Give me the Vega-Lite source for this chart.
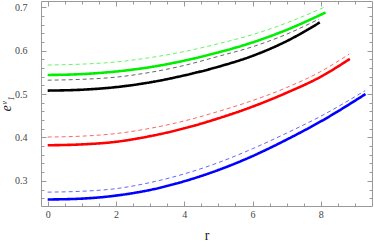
{
  "$schema": "https://vega.github.io/schema/vega-lite/v6.json",
  "width": 331,
  "height": 205,
  "autosize": {"type": "none"},
  "padding": {"left": 41, "top": 1, "right": 2, "bottom": 40},
  "background": "white",
  "view": {"stroke": null},
  "config": {
    "axis": {
      "labelFont": "Liberation Serif",
      "labelFontSize": 10,
      "labelColor": "#444",
      "titleFont": "Liberation Serif",
      "titleColor": "#222",
      "titleFontWeight": "normal",
      "domainColor": "#999",
      "tickColor": "#999",
      "grid": false
    }
  },
  "data": {
    "values": [
      {"r": 0, "v": 0.544, "model": "g", "kind": "solid", "curve": "g-s"},
      {"r": 1, "v": 0.546, "model": "g", "kind": "solid", "curve": "g-s"},
      {"r": 2, "v": 0.552, "model": "g", "kind": "solid", "curve": "g-s"},
      {"r": 3, "v": 0.562, "model": "g", "kind": "solid", "curve": "g-s"},
      {"r": 4, "v": 0.577, "model": "g", "kind": "solid", "curve": "g-s"},
      {"r": 5, "v": 0.596, "model": "g", "kind": "solid", "curve": "g-s"},
      {"r": 6, "v": 0.619, "model": "g", "kind": "solid", "curve": "g-s"},
      {"r": 7, "v": 0.648, "model": "g", "kind": "solid", "curve": "g-s"},
      {"r": 8.14, "v": 0.688, "model": "g", "kind": "solid", "curve": "g-s"},

      {"r": 0, "v": 0.567, "model": "g", "kind": "dashed", "curve": "g-d"},
      {"r": 1, "v": 0.569, "model": "g", "kind": "dashed", "curve": "g-d"},
      {"r": 2, "v": 0.574, "model": "g", "kind": "dashed", "curve": "g-d"},
      {"r": 3, "v": 0.584, "model": "g", "kind": "dashed", "curve": "g-d"},
      {"r": 4, "v": 0.598, "model": "g", "kind": "dashed", "curve": "g-d"},
      {"r": 5, "v": 0.616, "model": "g", "kind": "dashed", "curve": "g-d"},
      {"r": 6, "v": 0.637, "model": "g", "kind": "dashed", "curve": "g-d"},
      {"r": 7, "v": 0.664, "model": "g", "kind": "dashed", "curve": "g-d"},
      {"r": 8.1, "v": 0.700, "model": "g", "kind": "dashed", "curve": "g-d"},

      {"r": 0, "v": 0.508, "model": "k", "kind": "solid", "curve": "k-s"},
      {"r": 1, "v": 0.510, "model": "k", "kind": "solid", "curve": "k-s"},
      {"r": 2, "v": 0.516, "model": "k", "kind": "solid", "curve": "k-s"},
      {"r": 3, "v": 0.527, "model": "k", "kind": "solid", "curve": "k-s"},
      {"r": 4, "v": 0.543, "model": "k", "kind": "solid", "curve": "k-s"},
      {"r": 5, "v": 0.563, "model": "k", "kind": "solid", "curve": "k-s"},
      {"r": 6, "v": 0.588, "model": "k", "kind": "solid", "curve": "k-s"},
      {"r": 7, "v": 0.622, "model": "k", "kind": "solid", "curve": "k-s"},
      {"r": 7.97, "v": 0.665, "model": "k", "kind": "solid", "curve": "k-s"},

      {"r": 0, "v": 0.532, "model": "k", "kind": "dashed", "curve": "k-d"},
      {"r": 1, "v": 0.534, "model": "k", "kind": "dashed", "curve": "k-d"},
      {"r": 2, "v": 0.539, "model": "k", "kind": "dashed", "curve": "k-d"},
      {"r": 3, "v": 0.550, "model": "k", "kind": "dashed", "curve": "k-d"},
      {"r": 4, "v": 0.566, "model": "k", "kind": "dashed", "curve": "k-d"},
      {"r": 5, "v": 0.587, "model": "k", "kind": "dashed", "curve": "k-d"},
      {"r": 6, "v": 0.609, "model": "k", "kind": "dashed", "curve": "k-d"},
      {"r": 7, "v": 0.638, "model": "k", "kind": "dashed", "curve": "k-d"},
      {"r": 7.95, "v": 0.673, "model": "k", "kind": "dashed", "curve": "k-d"},

      {"r": 0, "v": 0.382, "model": "r", "kind": "solid", "curve": "r-s"},
      {"r": 1, "v": 0.384, "model": "r", "kind": "solid", "curve": "r-s"},
      {"r": 2, "v": 0.390, "model": "r", "kind": "solid", "curve": "r-s"},
      {"r": 3, "v": 0.403, "model": "r", "kind": "solid", "curve": "r-s"},
      {"r": 4, "v": 0.421, "model": "r", "kind": "solid", "curve": "r-s"},
      {"r": 5, "v": 0.444, "model": "r", "kind": "solid", "curve": "r-s"},
      {"r": 6, "v": 0.471, "model": "r", "kind": "solid", "curve": "r-s"},
      {"r": 7, "v": 0.503, "model": "r", "kind": "solid", "curve": "r-s"},
      {"r": 8, "v": 0.540, "model": "r", "kind": "solid", "curve": "r-s"},
      {"r": 8.85, "v": 0.581, "model": "r", "kind": "solid", "curve": "r-s"},

      {"r": 0, "v": 0.401, "model": "r", "kind": "dashed", "curve": "r-d"},
      {"r": 1, "v": 0.403, "model": "r", "kind": "dashed", "curve": "r-d"},
      {"r": 2, "v": 0.409, "model": "r", "kind": "dashed", "curve": "r-d"},
      {"r": 3, "v": 0.421, "model": "r", "kind": "dashed", "curve": "r-d"},
      {"r": 4, "v": 0.438, "model": "r", "kind": "dashed", "curve": "r-d"},
      {"r": 5, "v": 0.460, "model": "r", "kind": "dashed", "curve": "r-d"},
      {"r": 6, "v": 0.485, "model": "r", "kind": "dashed", "curve": "r-d"},
      {"r": 7, "v": 0.515, "model": "r", "kind": "dashed", "curve": "r-d"},
      {"r": 8, "v": 0.552, "model": "r", "kind": "dashed", "curve": "r-d"},
      {"r": 8.83, "v": 0.592, "model": "r", "kind": "dashed", "curve": "r-d"},

      {"r": 0, "v": 0.257, "model": "b", "kind": "solid", "curve": "b-s"},
      {"r": 1, "v": 0.259, "model": "b", "kind": "solid", "curve": "b-s"},
      {"r": 2, "v": 0.266, "model": "b", "kind": "solid", "curve": "b-s"},
      {"r": 3, "v": 0.279, "model": "b", "kind": "solid", "curve": "b-s"},
      {"r": 4, "v": 0.299, "model": "b", "kind": "solid", "curve": "b-s"},
      {"r": 5, "v": 0.325, "model": "b", "kind": "solid", "curve": "b-s"},
      {"r": 6, "v": 0.357, "model": "b", "kind": "solid", "curve": "b-s"},
      {"r": 7, "v": 0.395, "model": "b", "kind": "solid", "curve": "b-s"},
      {"r": 8, "v": 0.437, "model": "b", "kind": "solid", "curve": "b-s"},
      {"r": 9.31, "v": 0.500, "model": "b", "kind": "solid", "curve": "b-s"},

      {"r": 0, "v": 0.274, "model": "b", "kind": "dashed", "curve": "b-d"},
      {"r": 1, "v": 0.276, "model": "b", "kind": "dashed", "curve": "b-d"},
      {"r": 2, "v": 0.282, "model": "b", "kind": "dashed", "curve": "b-d"},
      {"r": 3, "v": 0.296, "model": "b", "kind": "dashed", "curve": "b-d"},
      {"r": 4, "v": 0.316, "model": "b", "kind": "dashed", "curve": "b-d"},
      {"r": 5, "v": 0.342, "model": "b", "kind": "dashed", "curve": "b-d"},
      {"r": 6, "v": 0.374, "model": "b", "kind": "dashed", "curve": "b-d"},
      {"r": 7, "v": 0.410, "model": "b", "kind": "dashed", "curve": "b-d"},
      {"r": 8, "v": 0.449, "model": "b", "kind": "dashed", "curve": "b-d"},
      {"r": 9.3, "v": 0.508, "model": "b", "kind": "dashed", "curve": "b-d"}
    ]
  },
  "layer": [
    {
      "mark": {"type": "line", "interpolate": "monotone"},
      "encoding": {
        "x": {
          "field": "r", "type": "quantitative",
          "scale": {"domain": [-0.196, 9.5], "nice": false, "zero": false},
          "axis": {
            "orient": "bottom", "title": "r", "titleFontSize": 14, "titlePadding": 9,
            "values": [0,0.5,1,1.5,2,2.5,3,3.5,4,4.5,5,5.5,6,6.5,7,7.5,8,8.5,9],
            "labelExpr": "datum.value % 2 === 0 ? format(datum.value, 'd') : ''",
            "tickSize": {"condition": {"test": "datum.value % 2 === 0", "value": -5}, "value": -3},
            "labelPadding": 8
          }
        },
        "y": {
          "field": "v", "type": "quantitative",
          "scale": {"domain": [0.242, 0.7145], "nice": false, "zero": false},
          "axis": {
            "orient": "left", "title": "eᵛ₁", "titleFontSize": 14, "titleFontStyle": "italic", "titlePadding": 1,
            "values": [0.26,0.28,0.3,0.32,0.34,0.36,0.38,0.4,0.42,0.44,0.46,0.48,0.5,0.52,0.54,0.56,0.58,0.6,0.62,0.64,0.66,0.68,0.7],
            "labelExpr": "abs(datum.value*10 - round(datum.value*10)) < 0.001 ? format(datum.value, '.1f') : ''",
            "tickSize": {"condition": {"test": "abs(datum.value*10 - round(datum.value*10)) < 0.001", "value": -5}, "value": -3},
            "labelPadding": 19
          }
        },
        "color": {
          "field": "model", "type": "nominal", "legend": null,
          "scale": {"domain": ["g", "k", "r", "b"], "range": ["#00ee00", "#000000", "#ff0000", "#0000ff"]}
        },
        "strokeDash": {
          "field": "kind", "type": "nominal", "legend": null,
          "scale": {"domain": ["solid", "dashed"], "range": [[1, 0], [4, 3]]}
        },
        "strokeWidth": {
          "field": "kind", "type": "ordinal", "legend": null,
          "scale": {"domain": ["solid", "dashed"], "range": [2.6, 1]}
        },
        "opacity": {
          "field": "kind", "type": "ordinal", "legend": null,
          "scale": {"domain": ["solid", "dashed"], "range": [1, 0.6]}
        },
        "detail": {"field": "curve", "type": "nominal"}
      }
    },
    {
      "mark": {"type": "line", "opacity": 0},
      "encoding": {
        "x": {
          "field": "r", "type": "quantitative",
          "axis": {
            "orient": "top", "title": null, "labels": false,
            "values": [0,0.5,1,1.5,2,2.5,3,3.5,4,4.5,5,5.5,6,6.5,7,7.5,8,8.5,9],
            "tickSize": {"condition": {"test": "datum.value % 2 === 0", "value": -5}, "value": -3}
          }
        },
        "y": {
          "field": "v", "type": "quantitative",
          "axis": {
            "orient": "right", "title": null, "labels": false,
            "values": [0.26,0.28,0.3,0.32,0.34,0.36,0.38,0.4,0.42,0.44,0.46,0.48,0.5,0.52,0.54,0.56,0.58,0.6,0.62,0.64,0.66,0.68,0.7],
            "tickSize": {"condition": {"test": "abs(datum.value*10 - round(datum.value*10)) < 0.001", "value": -5}, "value": -3}
          }
        },
        "detail": {"field": "curve", "type": "nominal"}
      }
    }
  ],
  "resolve": {"axis": {"x": "independent", "y": "independent"}}
}
